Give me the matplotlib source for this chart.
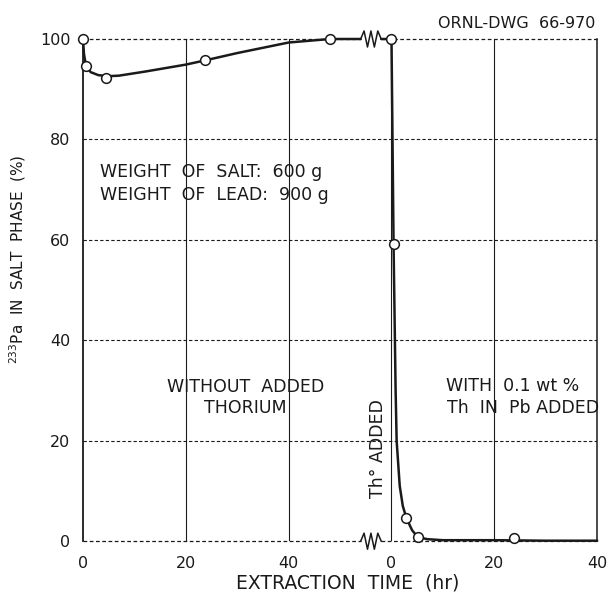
import matplotlib
matplotlib.use("Agg")
import matplotlib.pyplot as plt
import numpy as np

# ---- data ----
# Left segment: without added thorium (hr, % 233Pa in salt)
left_pts_x = [0, 0.6, 4.5, 23.8, 48]
left_pts_y = [100, 94.6, 92.3, 95.8, 100]
left_curve_x = [0, 0.2, 0.6, 1.5, 3, 5, 7, 12, 20, 24, 30, 40, 48, 54]
left_curve_y = [100, 97, 94.6, 93.4, 92.8, 92.6, 92.7, 93.5, 94.9, 95.8, 97.2, 99.3, 100, 100]

# Right segment: with 0.1 wt % Th in Pb added (hr after addition)
right_pts_x = [0, 0.4, 2.9, 5.1, 23.8]
right_pts_y = [100, 59.2, 4.6, 0.8, 0.6]
right_curve_x = [-2, 0, 0.4, 0.8, 1.0, 1.6, 2.2, 2.9, 4, 5.1, 7, 10, 20, 30, 40]
right_curve_y = [100, 100, 59.2, 30, 20, 11, 7, 4.6, 2.2, 0.8, 0.4, 0.2, 0.2, 0.1, 0.1]

x_tick_labels = ["0", "20", "40", "0", "20", "40"]
y_ticks = [0, 20, 40, 60, 80, 100]

# ---- layout constants ----
OFFSET = 60          # axis position of right-panel zero
BREAK_L, BREAK_R = 54, 58
INK = "#1a1a1a"

plt.rcParams['font.family'] = ['DejaVu Sans']

fig = plt.figure(figsize=(6.1, 6.0), dpi=100)
ax = fig.add_axes([0.136, 0.098, 0.843, 0.837])
ax.set_xlim(0, 100)
ax.set_ylim(0, 100)
for s in ax.spines.values():
    s.set_visible(False)

# grid: horizontal dashed, vertical solid
for yv in y_ticks:
    if yv in (0, 100):
        ax.plot([0, BREAK_L], [yv, yv], ls=(0, (3, 2)), lw=0.9, color=INK, zorder=1, clip_on=False)
        ax.plot([BREAK_R, 100], [yv, yv], ls=(0, (3, 2)), lw=0.9, color=INK, zorder=1, clip_on=False)
    else:
        ax.plot([0, 100], [yv, yv], ls=(0, (3, 2)), lw=0.8, color=INK, zorder=1)
for xv in [20, 40, OFFSET, OFFSET + 20]:
    ax.plot([xv, xv], [0, 100], ls='-', lw=0.8, color=INK, zorder=1)
ax.plot([0, 0], [0, 100], lw=1.3, color=INK, zorder=2, clip_on=False)
ax.plot([100, 100], [0, 100], lw=1.1, color=INK, zorder=2, clip_on=False)

# break zigzags at top and bottom
def zigzag(y0, amp):
    n = 7
    xs = np.linspace(BREAK_L, BREAK_R, n)
    ys = [y0] + [y0 + (amp if i % 2 else -amp) for i in range(1, n - 1)] + [y0]
    ax.plot(xs, ys, lw=1.1, color=INK, zorder=3, clip_on=False)
zigzag(100, 1.6)
zigzag(0, 1.6)

# curves
ax.plot(left_curve_x, left_curve_y, color=INK, lw=1.8, zorder=4, solid_capstyle='round',
        clip_on=False)
ax.plot(np.array(right_curve_x) + OFFSET, right_curve_y, color=INK, lw=1.8, zorder=4,
        solid_capstyle='round', clip_on=False)
ax.plot(left_pts_x, left_pts_y, ls='none', marker='o', ms=7, mfc='white', mec=INK,
        mew=1.1, zorder=5, clip_on=False)
ax.plot(np.array(right_pts_x) + OFFSET, right_pts_y, ls='none', marker='o', ms=7,
        mfc='white', mec=INK, mew=1.1, zorder=5, clip_on=False)

# ticks
ax.set_xticks([0, 20, 40, OFFSET, OFFSET + 20, OFFSET + 40])
ax.set_xticklabels(x_tick_labels)
ax.set_yticks(y_ticks)
ax.set_yticklabels([str(v) for v in y_ticks])
ax.tick_params(axis='both', length=0, labelsize=11.5, colors=INK)
ax.tick_params(axis='x', pad=11)
ax.tick_params(axis='y', pad=9)

ax.set_ylabel("$^{233}$Pa  IN  SALT  PHASE  (%)", fontsize=11, color=INK)
ax.yaxis.set_label_coords(-0.107, 0.562)
fig.text(348 / 610, 1 - 583 / 600, "EXTRACTION  TIME  (hr)", ha='center', va='center',
         fontsize=13.5, color=INK)
fig.text(595 / 610, 1 - 23 / 600, "ORNL-DWG  66-970", ha='right', va='center',
         fontsize=11.5, color=INK)

# annotations
FS = 12.5
ax.text(3.3, 73.5, "WEIGHT  OF  SALT:  600 g", fontsize=FS, color=INK, va='center')
ax.text(3.3, 69.0, "WEIGHT  OF  LEAD:  900 g", fontsize=FS, color=INK, va='center')
ax.text(31.6, 30.7, "WITHOUT  ADDED", fontsize=FS, color=INK, ha='center', va='center')
ax.text(31.6, 26.6, "THORIUM", fontsize=FS, color=INK, ha='center', va='center')
ax.text(70.6, 30.9, "WITH  0.1 wt %", fontsize=FS, color=INK, va='center')
ax.text(70.8, 26.5, "Th  IN  Pb ADDED", fontsize=FS, color=INK, va='center')
ax.text(57.4, 18.5, "Th° ADDED", fontsize=FS, color=INK, rotation=90,
        ha='center', va='center')

fig.savefig("out.png", dpi=100, facecolor='white')
